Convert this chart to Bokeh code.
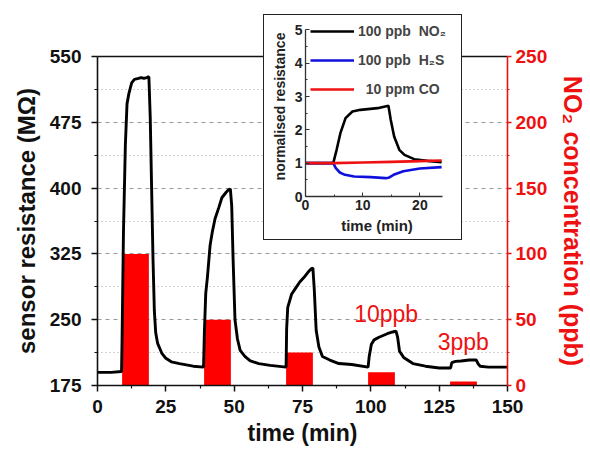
from bokeh.plotting import figure
from bokeh.models import LinearAxis, Range1d, Legend, LegendItem, FixedTicker, Label
from bokeh.layouts import column
from bokeh.embed import file_html
from bokeh.resources import INLINE

# ---------------- data ----------------
time_min = [0, 5, 8.8, 9.0, 9.5, 10.2, 10.8, 11.5, 12.5, 13.5, 15, 16, 17, 18, 18.8,
            19.3, 19.8, 20.3, 20.8, 21.3, 22, 23.5, 25, 27, 30, 35, 38.8,
            39.1, 39.6, 40.2, 41.2, 42, 43, 44.4, 45.5, 47, 47.9, 48.6, 49.1, 49.6, 50.3, 51.2, 52.2, 54, 55.9, 59, 63.2, 69,
            69.2, 69.6, 71, 72.5, 74, 75.5, 77, 78.2, 78.8, 79.3, 80, 81, 82.3, 85, 88.3, 93, 99,
            99.4, 100.2, 101.2, 103, 106, 108, 109.2, 109.8, 110.5, 112, 115.4, 120, 125, 129.2,
            129.6, 131, 133, 136, 138.6, 139.2, 140, 143, 146, 150]
resistance = [190, 190, 191, 230, 350, 450, 496, 508, 520, 524, 525, 526, 525, 526, 527,
              480, 400, 320, 260, 235, 223, 212, 206, 202, 200, 197, 196,
              235, 280, 298, 335, 350, 365, 378, 389, 395, 398, 399, 380, 320, 250, 228, 215, 208, 203, 200, 198, 196,
              240, 264, 279, 286, 293, 298, 304, 308, 309, 285, 238, 219, 208, 204, 200, 199, 196,
              208, 222, 227, 230, 234, 236, 237, 230, 214, 207, 200, 197, 195, 195,
              201, 202.5, 203, 204, 204, 200, 197, 196, 196, 196]

pulse_start = [9, 39, 69, 99, 129]
pulse_end = [18.8, 48.8, 78.8, 108.8, 138.8]
no2_ppb = [100, 50, 25, 10, 3]

res_ticks = [175, 250, 325, 400, 475, 550]
res_minor = [212.5, 287.5, 362.5, 437.5, 512.5]
time_ticks = [0, 25, 50, 75, 100, 125, 150]
time_minor = [12.5, 37.5, 62.5, 87.5, 112.5, 137.5]
conc_ticks = [0, 50, 100, 150, 200, 250]
conc_minor = [25, 75, 125, 175, 225]

# inset data
ins_t_no2 = [0, 4.85, 5.44, 6.1, 7.0, 8.2, 9.6, 12.6, 14.5, 14.9, 15.5, 16.4, 17.3, 19.0, 21.3, 23.8]
ins_no2 = [1.0, 1.0, 1.4, 1.9, 2.35, 2.55, 2.6, 2.65, 2.72, 2.3, 1.8, 1.4, 1.25, 1.12, 1.07, 1.03]
ins_t_h2s = [0, 4.85, 5.3, 6.0, 6.9, 8.5, 11.4, 14.0, 14.5, 15.4, 17.1, 20.0, 23.8]
ins_h2s = [1.0, 1.0, 0.85, 0.72, 0.65, 0.6, 0.58, 0.55, 0.56, 0.65, 0.76, 0.84, 0.88]
ins_t_co = [0, 4.85, 10, 15, 20, 23.8]
ins_co = [1.0, 1.0, 1.02, 1.04, 1.06, 1.08]
ins_x_ticks = [0, 10, 20]
ins_x_minor = [5, 15]
ins_y_ticks = [0, 1, 2, 3, 4, 5]
ins_y_minor = [0.5, 1.5, 2.5, 3.5, 4.5]

FONT = "Liberation Sans"
RED = "#ee1111"

# ---------------- main figure ----------------
p = figure(width=590, height=450, x_range=Range1d(0, 150), y_range=Range1d(175, 550),
           output_backend="svg", toolbar_location=None, frame_align=False,
           min_border_left=97, min_border_right=80, min_border_top=56, min_border_bottom=65)
p.outline_line_color = None
p.background_fill_color = "white"
p.extra_y_ranges = {"conc": Range1d(0, 250)}

p.quad(left=pulse_start, right=pulse_end, bottom=[0] * len(no2_ppb), top=no2_ppb,
       y_range_name="conc", fill_color="#ff0000", line_color=None)
p.line(time_min, resistance, line_color="black", line_width=2.9)

# grids
p.xgrid.visible = False
p.ygrid.grid_line_color = "#999999"
p.ygrid.grid_line_dash = "4 4"
p.ygrid.grid_line_width = 1
p.ygrid.minor_grid_line_color = "#aaaaaa"
p.ygrid.minor_grid_line_dash = "1 3"

def style_axis(ax, color, label_size):
    ax.axis_line_color = color
    ax.axis_line_width = 1.6
    ax.major_tick_line_color = color
    ax.minor_tick_line_color = color
    ax.major_tick_line_width = 1.5
    ax.minor_tick_line_width = 1.2
    ax.major_label_text_color = color
    ax.major_label_text_font = FONT
    ax.major_label_text_font_style = "bold"
    ax.major_label_text_font_size = "19px"
    ax.axis_label_text_color = color
    ax.axis_label_text_font = FONT
    ax.axis_label_text_font_style = "bold"
    ax.axis_label_text_font_size = label_size

yax = p.yaxis[0]
yax.ticker = FixedTicker(ticks=res_ticks, minor_ticks=res_minor)
yax.axis_label = "sensor resistance (MΩ)"
style_axis(yax, "#111111", "24px")
yax.major_tick_out = 6
yax.major_tick_in = 0
yax.minor_tick_out = 3
yax.minor_tick_in = 0
yax.major_label_standoff = 10
yax.axis_label_standoff = 7

xax = p.xaxis[0]
xax.ticker = FixedTicker(ticks=time_ticks, minor_ticks=time_minor)
xax.axis_label = "time (min)"
style_axis(xax, "#111111", "23px")
xax.major_tick_out = 6
xax.major_tick_in = 0
xax.minor_tick_out = 3
xax.minor_tick_in = 0
xax.major_label_standoff = 8
xax.axis_label_standoff = 4

rax = LinearAxis(y_range_name="conc", ticker=FixedTicker(ticks=conc_ticks, minor_ticks=conc_minor),
                 axis_label="NO₂ concentration (ppb)")
style_axis(rax, RED, "25px")
rax.major_tick_out = 4
rax.major_tick_in = 0
rax.minor_tick_out = 2
rax.minor_tick_in = 0
rax.major_label_standoff = 4
rax.axis_label_standoff = 9
p.add_layout(rax, "right")

tax = LinearAxis(ticker=FixedTicker(ticks=[], minor_ticks=[]),
                 axis_line_color="#111111", axis_line_width=1.6)
p.add_layout(tax, "above")

p.add_layout(Label(x=105.6, y=256, text="10ppb", text_align="center", text_baseline="alphabetic",
                   text_color=RED, text_font=FONT, text_font_size="23px"))
p.add_layout(Label(x=133.8, y=225, text="3ppb", text_align="center", text_baseline="alphabetic",
                   text_color=RED, text_font=FONT, text_font_size="23px"))

# ---------------- inset ----------------
ins = figure(width=199, height=226, x_range=Range1d(0, 25), y_range=Range1d(0, 5.4),
             output_backend="svg", toolbar_location=None, frame_align=False,
             min_border_left=41, min_border_right=15, min_border_top=1, min_border_bottom=45,
             styles={"position": "absolute", "left": "263px", "top": "14px",
                     "border": "1.5px solid #222222", "background": "white"})
ins.outline_line_color = None
ins.xgrid.visible = False
ins.ygrid.visible = False

r_no2 = ins.line(ins_t_no2, ins_no2, line_color="black", line_width=2.6)
r_h2s = ins.line(ins_t_h2s, ins_h2s, line_color="#1010dd", line_width=2.6)
r_co = ins.line(ins_t_co, ins_co, line_color="#ee1111", line_width=2.6)

for ax, ticks, minor, lab, bnd in [(ins.xaxis[0], ins_x_ticks, ins_x_minor, "time (min)", (0, 24)),
                                   (ins.yaxis[0], ins_y_ticks, ins_y_minor, "normalised resistance", (0, 5))]:
    ax.ticker = FixedTicker(ticks=ticks, minor_ticks=minor)
    ax.bounds = bnd
    ax.axis_label = lab
    ax.axis_line_color = "#333333"
    ax.axis_line_width = 1.3
    ax.major_tick_line_color = "#333333"
    ax.minor_tick_line_color = "#333333"
    ax.major_tick_in = 4
    ax.major_tick_out = 0
    ax.minor_tick_in = 2
    ax.minor_tick_out = 0
    ax.major_label_text_font = FONT
    ax.major_label_text_font_style = "bold"
    ax.major_label_text_font_size = "14px"
    ax.major_label_text_color = "#222222"
    ax.major_label_standoff = 3
    ax.axis_label_text_font = FONT
    ax.axis_label_text_font_style = "bold"
    ax.axis_label_text_font_size = "14px"
    ax.axis_label_text_color = "#222222"
    ax.axis_label_standoff = 4
ins.xaxis[0].axis_label_text_font_size = "15px"

leg = Legend(items=[LegendItem(label="100 ppb  NO₂", renderers=[r_no2]),
                    LegendItem(label="100 ppb  H₂S", renderers=[r_h2s]),
                    LegendItem(label="  10 ppm CO", renderers=[r_co])],
             location=(5, 97), orientation="vertical",
             border_line_color=None, background_fill_alpha=0,
             label_text_font=FONT, label_text_font_style="bold", label_text_font_size="14px",
             glyph_width=44, glyph_height=20, label_height=20, spacing=9,
             padding=6, margin=0, label_standoff=4)
ins.add_layout(leg)

layout = column(p, ins, styles={"position": "relative"})

open("out.html", "w").write(file_html(layout, INLINE))
